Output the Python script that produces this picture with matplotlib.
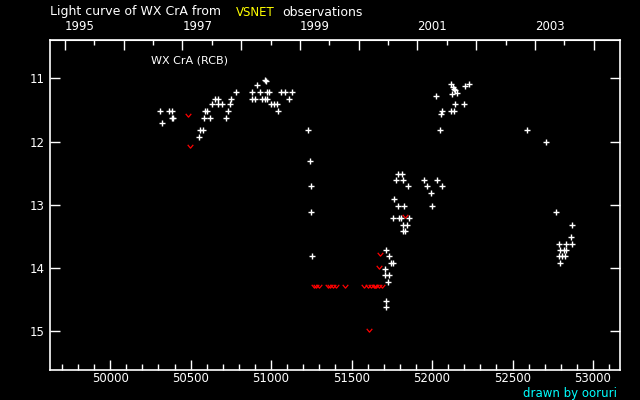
import numpy as np
import matplotlib
matplotlib.use('Agg')
import matplotlib.pyplot as plt
from matplotlib.path import Path
from matplotlib.ticker import MultipleLocator, FixedLocator, FuncFormatter

# Visual observations (MJD, magnitude)
obs_mjd = [50311, 50322, 50367, 50386, 50382, 50392, 50552, 50560, 50577,
           50585, 50587, 50603, 50622, 50633, 50653, 50668, 50672, 50695,
           50721, 50732, 50746, 50753, 50780, 50879, 50883, 50902, 50914,
           50933, 50943, 50962, 50964, 50966, 50972, 50976, 50989, 50999,
           51018, 51036, 51045, 51063, 51088, 51113, 51128, 51231, 51243,
           51246, 51250, 51256,
           51716, 51734, 51747, 51760, 51709, 51709, 51732, 51728, 51714, 51712,
           51790, 51815, 51778, 51822, 51852, 51765, 51790, 51828, 51759, 51797,
           51809, 51859, 51822, 51846, 51822, 51834,
           51952, 52033, 51970, 52060, 51995, 52001,
           52026, 52051, 52064, 52057, 52120, 52132, 52138, 52144, 52126, 52157,
           52144, 52200, 52120, 52138, 52207, 52231,
           52592, 52710, 52772, 52871, 52865, 52791, 52835, 52868, 52797, 52822,
           52834, 52791, 52809, 52828, 52797]
obs_mag = [11.51, 11.71, 11.51, 11.51, 11.62, 11.62, 11.92, 11.81, 11.81,
           11.62, 11.51, 11.51, 11.62, 11.41, 11.32, 11.32, 11.41, 11.41,
           11.62, 11.51, 11.41, 11.32, 11.21, 11.32, 11.21, 11.32, 11.11,
           11.21, 11.32, 11.32, 11.02, 11.05, 11.21, 11.32, 11.21, 11.41,
           11.41, 11.41, 11.51, 11.21, 11.21, 11.32, 11.21, 11.81, 12.31,
           12.71, 13.12, 13.81,
           13.72, 13.81, 13.92, 13.92, 14.02, 14.11, 14.11, 14.22, 14.52, 14.62,
           12.52, 12.52, 12.61, 12.61, 12.71, 12.91, 13.02, 13.02, 13.21, 13.21,
           13.21, 13.21, 13.32, 13.32, 13.42, 13.42,
           12.61, 12.61, 12.71, 12.71, 12.82, 13.02,
           11.28, 11.81, 11.52, 11.56, 11.09, 11.13, 11.17, 11.19, 11.25, 11.24,
           11.41, 11.41, 11.51, 11.51, 11.12, 11.09,
           11.81, 12.01, 13.12, 13.32, 13.51, 13.62, 13.62, 13.62, 13.72, 13.72,
           13.72, 13.81, 13.81, 13.81, 13.92]

# Fainter-than estimates
lim_mjd = [50485, 50498, 51264, 51281, 51297, 51351, 51368, 51384, 51405,
           51461, 51579, 51604, 51621, 51637, 51645, 51654, 51670, 51691,
           51610, 51675, 51672, 51834]
lim_mag = [11.58, 12.07, 14.28, 14.28, 14.28, 14.28, 14.28, 14.28, 14.28,
           14.28, 14.28, 14.28, 14.28, 14.28, 14.28, 14.28, 14.28, 14.28,
           14.98, 13.78, 13.98, 13.18]

mjd_1995 = 49718.0

def mjd2yr(m):
    return 1995 + (np.asarray(m) - mjd_1995) / 365.25

def yr2mjd(y):
    return mjd_1995 + (np.asarray(y) - 1995) * 365.25

plt.rcParams['font.family'] = 'DejaVu Sans'
plt.rcParams['font.size'] = 8

fig = plt.figure(figsize=(6.4, 4.0), dpi=100, facecolor='black')
ax = fig.add_axes([50/640, 30/400, 570/640, 330/400])
ax.set_facecolor('black')

vmark = Path([(-1, 0.6), (0, -0.6), (1, 0.6)],
             [Path.MOVETO, Path.LINETO, Path.LINETO])

ax.plot(obs_mjd, obs_mag, ls='none', marker='+', color='white', ms=3.8, mew=1.0)
ax.plot(lim_mjd, lim_mag, ls='none', marker=vmark, color='red', mfc='none',
        ms=4, mew=0.9)

ax.set_xlim(49626, 53168)
ax.set_ylim(15.61, 10.395)

for s in ax.spines.values():
    s.set_color('white')
    s.set_linewidth(1.2)

ax.xaxis.set_major_locator(MultipleLocator(500))
ax.xaxis.set_minor_locator(MultipleLocator(100))
ax.yaxis.set_major_locator(MultipleLocator(1))
ax.tick_params(axis='x', which='major', direction='in', length=7.5, width=1,
               color='white', labelcolor='white', pad=1.5, top=False, labelsize=8.5)
ax.tick_params(axis='x', which='minor', direction='in', length=4, width=1,
               color='white', top=False)
ax.tick_params(axis='y', which='major', direction='in', length=7.5, width=1,
               color='white', labelcolor='white', pad=4, right=True, labelsize=8.5)

sec = ax.secondary_xaxis('top', functions=(mjd2yr, yr2mjd))
sec.spines['top'].set_color('white')
sec.xaxis.set_major_locator(FixedLocator(np.arange(1995, 2005)))
sec.xaxis.set_minor_locator(FixedLocator(np.arange(1994.5, 2005, 1.0)))
sec.xaxis.set_major_formatter(FuncFormatter(lambda v, p: str(int(round(v))) if int(round(v)) % 2 == 1 else ''))
sec.tick_params(which='major', direction='in', length=7.5, width=1,
                color='white', labelcolor='white', pad=5, labelsize=8.5)
sec.tick_params(which='minor', direction='in', length=3.5, width=1, color='white')
for lab in sec.get_xticklabels():
    lab.set_horizontalalignment('left')

ax.text(0.177, 0.937, 'WX CrA (RCB)', transform=ax.transAxes, color='white',
        fontsize=8, ha='left', va='center')

fig.text(50/640, 1 - 12/400, 'Light curve of WX CrA from', color='white',
         fontsize=9, ha='left', va='center')
fig.text(236/640, 1 - 12/400, 'VSNET', color='yellow',
         fontsize=8.5, ha='left', va='center')
fig.text(282/640, 1 - 12/400, 'observations', color='white',
         fontsize=9, ha='left', va='center')
fig.text(617/640, 1 - 393/400, 'drawn by ooruri', color='cyan',
         fontsize=8.5, ha='right', va='center')

fig.savefig('out.png', dpi=100, facecolor='black')
